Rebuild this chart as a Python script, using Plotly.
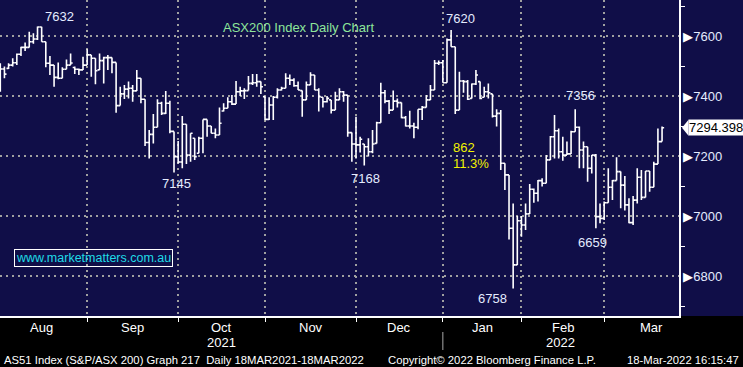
import plotly.graph_objects as go
import pandas as pd

# ---------------- data ----------------
holidays = ['2021-12-27', '2021-12-28', '2022-01-03', '2022-01-26']
dates = [d for d in pd.bdate_range('2021-08-02', '2022-03-18')
         if d.strftime('%Y-%m-%d') not in holidays]

opens = [7470, 7490, 7492, 7503, 7511, 7539, 7562, 7562, 7581, 7590,
         7630, 7581, 7509, 7503, 7462, 7459, 7489, 7503, 7495, 7489,
         7487, 7503, 7537, 7526, 7487, 7518, 7528, 7528, 7512, 7368,
         7407, 7423, 7426, 7417, 7459, 7389, 7245, 7272, 7296, 7376,
         7342, 7376, 7282, 7198, 7180, 7306, 7203, 7259, 7209, 7259,
         7322, 7300, 7276, 7270, 7350, 7359, 7381, 7373, 7414, 7417,
         7418, 7442, 7444, 7448, 7398, 7322, 7370, 7396, 7420, 7426,
         7459, 7453, 7434, 7418, 7387, 7437, 7470, 7420, 7396, 7381,
         7387, 7353, 7387, 7414, 7403, 7278, 7240, 7237, 7240, 7231,
         7214, 7242, 7311, 7411, 7383, 7353, 7383, 7378, 7328, 7300,
         7300, 7296, 7356, 7362, 7387, 7420, 7509, 7511, 7444, 7587,
         7564, 7353, 7450, 7448, 7392, 7440, 7448, 7396, 7414, 7407,
         7333, 7342, 7176, 7137, 6959, 6837, 6984, 6970, 7007, 7089,
         7076, 7118, 7109, 7187, 7264, 7284, 7214, 7203, 7207, 7281,
         7296, 7220, 7231, 7159, 7203, 6998, 6992, 7044, 7096, 7118,
         7148, 7103, 7037, 6978, 7053, 7129, 7062, 7150, 7096, 7173,
         7248]
highs = [7509, 7498, 7509, 7526, 7542, 7564, 7578, 7614, 7609, 7632,
         7631, 7581, 7533, 7503, 7512, 7496, 7522, 7542, 7498, 7492,
         7531, 7556, 7537, 7526, 7542, 7531, 7537, 7528, 7512, 7431,
         7437, 7448, 7437, 7487, 7459, 7389, 7287, 7340, 7389, 7381,
         7417, 7384, 7282, 7250, 7333, 7306, 7276, 7259, 7264, 7322,
         7322, 7300, 7292, 7362, 7376, 7396, 7403, 7450, 7431, 7426,
         7467, 7473, 7473, 7448, 7398, 7396, 7400, 7426, 7431, 7476,
         7472, 7459, 7448, 7418, 7448, 7479, 7470, 7426, 7396, 7400,
         7387, 7414, 7426, 7417, 7403, 7278, 7331, 7264, 7240, 7259,
         7287, 7314, 7444, 7420, 7387, 7418, 7392, 7378, 7333, 7351,
         7311, 7356, 7367, 7403, 7437, 7520, 7518, 7520, 7592, 7620,
         7564, 7481, 7453, 7453, 7442, 7487, 7448, 7431, 7442, 7407,
         7356, 7353, 7176, 7137, 7042, 7000, 7000, 7042, 7107, 7092,
         7120, 7126, 7203, 7267, 7337, 7292, 7264, 7248, 7284, 7356,
         7298, 7248, 7231, 7203, 7207, 7042, 7048, 7159, 7120, 7196,
         7148, 7133, 7059, 7067, 7159, 7153, 7150, 7150, 7181, 7292,
         7298]
lows = [7414, 7459, 7490, 7498, 7503, 7533, 7550, 7562, 7574, 7587,
        7581, 7496, 7470, 7431, 7456, 7459, 7489, 7503, 7473, 7470,
        7487, 7503, 7464, 7439, 7487, 7442, 7487, 7476, 7344, 7368,
        7390, 7392, 7381, 7417, 7376, 7233, 7192, 7242, 7296, 7337,
        7340, 7276, 7145, 7175, 7159, 7173, 7181, 7187, 7209, 7209,
        7264, 7276, 7259, 7270, 7348, 7359, 7370, 7373, 7400, 7390,
        7418, 7437, 7431, 7407, 7320, 7320, 7320, 7392, 7418, 7426,
        7437, 7431, 7420, 7331, 7387, 7437, 7420, 7348, 7362, 7378,
        7342, 7353, 7387, 7381, 7264, 7181, 7192, 7212, 7168, 7198,
        7209, 7242, 7311, 7376, 7340, 7353, 7362, 7326, 7298, 7292,
        7259, 7289, 7320, 7362, 7387, 7420, 7503, 7444, 7444, 7564,
        7340, 7353, 7411, 7387, 7392, 7437, 7389, 7396, 7392, 7328,
        7298, 7153, 7087, 6922, 6758, 6837, 6931, 6953, 7007, 7044,
        7048, 7098, 7109, 7187, 7192, 7192, 7184, 7203, 7207, 7281,
        7159, 7159, 7114, 7142, 6959, 6976, 6987, 7044, 7053, 7118,
        7026, 7018, 6976, 6970, 7042, 7053, 7062, 7081, 7096, 7173,
        7248]
closes = [7490, 7473, 7503, 7511, 7539, 7562, 7562, 7581, 7590, 7630,
          7581, 7509, 7503, 7462, 7459, 7489, 7503, 7510, 7489, 7487,
          7503, 7537, 7526, 7484, 7518, 7528, 7528, 7512, 7368, 7407,
          7423, 7426, 7417, 7459, 7389, 7245, 7272, 7296, 7376, 7342,
          7376, 7282, 7198, 7180, 7306, 7203, 7276, 7198, 7259, 7322,
          7300, 7276, 7270, 7309, 7359, 7381, 7373, 7414, 7417, 7418,
          7442, 7444, 7448, 7431, 7322, 7370, 7396, 7420, 7426, 7459,
          7453, 7434, 7420, 7387, 7437, 7470, 7420, 7398, 7381, 7392,
          7353, 7387, 7414, 7403, 7278, 7240, 7237, 7256, 7231, 7214,
          7240, 7311, 7411, 7383, 7353, 7383, 7378, 7328, 7300, 7300,
          7296, 7356, 7362, 7387, 7420, 7509, 7511, 7444, 7587, 7564,
          7353, 7450, 7448, 7389, 7440, 7470, 7392, 7414, 7411, 7333,
          7342, 7176, 7137, 6959, 6837, 6984, 6970, 7007, 7089, 7076,
          7118, 7109, 7187, 7264, 7284, 7214, 7203, 7207, 7281, 7296,
          7220, 7231, 7159, 7203, 6998, 6992, 7044, 7096, 7118, 7148,
          7103, 7037, 6978, 7053, 7129, 7062, 7150, 7096, 7173, 7248,
          7294.398]

y_ticks = [6800, 7000, 7200, 7400, 7600]
y_range = [6666.7, 7720]

# text labels: (text, x_px, y_px)
point_labels = [('7632', 59, 17), ('7620', 460, 19), ('7356', 580, 95),
                ('7145', 176, 183), ('7168', 365, 178), ('6758', 492, 298),
                ('6659', 592, 242)]

# ---------------- geometry helpers ----------------
PW, PH = 679, 316          # plot area in pixels
SP = 4.136                 # pixels per trading day
x_range = [-0.3 / SP, -0.3 / SP + PW / SP]

def xp(px):
    return px / PW

def yp(py):
    return 1 - py / PH

idx = list(range(len(dates)))
date_str = [d.strftime('%d %b %Y') for d in dates]

# month boundaries (grid at last trading day of previous month)
months = []
for i, d in enumerate(dates):
    key = (d.year, d.month)
    if not months or months[-1][0] != key:
        months.append((key, i))
grid_vals = [i - 1 for (_, i) in months[1:]]

def month_days(y, m):
    start = pd.Timestamp(year=y, month=m, day=1)
    end = start + pd.offsets.MonthEnd(0)
    return len([d for d in pd.bdate_range(start, end)
                if d.strftime('%Y-%m-%d') not in holidays])

NAVY = '#100e48'
LBL = '#e4ebff'
SANS = 'Liberation Sans, Arial'

fig = go.Figure()
fig.add_trace(go.Ohlc(
    x=idx, open=opens, high=highs, low=lows, close=closes,
    increasing=dict(line=dict(color='white', width=1.6)),
    decreasing=dict(line=dict(color='white', width=1.6)),
    tickwidth=0.5, text=date_str, hoverinfo='text+y', showlegend=False))

def ann(text, x, y, size=13, color=LBL, xanchor='center', xref='paper', yref='paper', **kw):
    d = dict(text=text, x=x, y=y, xref=xref, yref=yref, showarrow=False,
             xanchor=xanchor, yanchor='middle',
             font=dict(family=SANS, size=size, color=color))
    d.update(kw)
    return d

annotations = []
for (lab, px, py) in point_labels:
    annotations.append(ann(lab, xp(px), yp(py)))
annotations.append(ann('ASX200 Index Daily Chart', xp(298), yp(27), color='#8ee69a'))
annotations.append(ann('862', xp(451), yp(147), color='#f2f200', xanchor='left'))
annotations.append(ann('11.3%', xp(451), yp(163), color='#f2f200', xanchor='left'))
annotations.append(ann('www.marketmatters.com.au', xp(93), yp(257.5), size=12.5,
                       color='#1fdbe6', bordercolor='white', borderwidth=1, borderpad=1))
# last price tag
last = closes[-1]
annotations.append(ann(f'{last:.3f}', xp(688), last, color='black', xanchor='left',
                       yref='y', bgcolor='white', borderpad=0))

# month labels
starts = [-1] + grid_vals
for ((y, m), _), g in zip(months, starts):
    mid = g + month_days(y, m) / 2
    annotations.append(ann(pd.Timestamp(year=y, month=m, day=1).strftime('%b'),
                           mid, yp(327), color='white', xref='x'))
# year labels
jan_grid = grid_vals[[k for k, ((y, m), _) in enumerate(months[1:]) if m == 1][0]]
annotations.append(ann('2021', (x_range[0] + jan_grid) / 2, yp(342), color='white', xref='x'))
annotations.append(ann('2022', (jan_grid + x_range[1]) / 2, yp(342), color='white', xref='x'))
# footer
annotations.append(ann('AS51 Index (S&P/ASX 200) Graph 217  Daily 18MAR2021-18MAR2022',
                       xp(2), yp(360), size=11.3, color='white', xanchor='left'))
annotations.append(ann('Copyright© 2022 Bloomberg Finance L.P.',
                       xp(386), yp(360), size=11.3, color='white', xanchor='left'))
annotations.append(ann('18-Mar-2022 16:15:47',
                       xp(741), yp(360), size=11.3, color='white', xanchor='right'))

shapes = [
    dict(type='rect', xref='paper', yref='paper', x0=1, x1=1.2, y0=0, y1=1,
         fillcolor=NAVY, line=dict(width=0), layer='below'),
    dict(type='path', xref='paper', yref='y',
         path=f'M {xp(682)},{last} L {xp(688.5)},{last + 8 / 0.3} L {xp(688.5)},{last - 8 / 0.3} Z',
         fillcolor='white', line=dict(width=0)),
    dict(type='line', xref='x', yref='paper', x0=jan_grid, x1=jan_grid,
         y0=yp(332), y1=yp(350), line=dict(color='#a8a8a8', width=1)),
]

fig.update_layout(
    width=743, height=367,
    margin=dict(l=0, r=743 - PW, t=0, b=367 - PH),
    paper_bgcolor='black', plot_bgcolor=NAVY,
    showlegend=False,
    annotations=annotations, shapes=shapes,
    xaxis=dict(range=x_range, rangeslider=dict(visible=False), showticklabels=False,
               tickmode='array', tickvals=grid_vals, ticks='outside', ticklen=4,
               tickcolor='white', tickwidth=1,
               showgrid=True, gridcolor='#a0a0a0', gridwidth=2, griddash='2px,4px',
               showline=True, linecolor='white', linewidth=1.5, zeroline=False,
               fixedrange=True),
    yaxis=dict(range=y_range, side='right', tickmode='array', tickvals=y_ticks,
               ticktext=['<span style="color:#ffffff">▶</span>' + str(v) for v in y_ticks],
               ticks='',
               tickfont=dict(family=SANS, size=13, color=LBL),
               minor=dict(tickmode='linear', tick0=6700, dtick=200, ticks='outside',
                          ticklen=4, tickcolor='white', showgrid=False),
               showgrid=True, gridcolor='#a0a0a0', gridwidth=2, griddash='2px,4px',
               showline=True, linecolor='white', linewidth=1.5, zeroline=False,
               fixedrange=True),
)

fig.write_html('out.html', config={'displayModeBar': False},
               post_script="document.body.style.margin='0px';")
